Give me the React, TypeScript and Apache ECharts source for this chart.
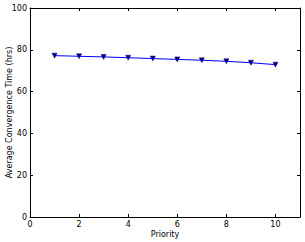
import React, { useEffect, useRef } from "react";
import * as echarts from "echarts";

const priorities = [1, 2, 3, 4, 5, 6, 7, 8, 9, 10];
const convergenceTime = [77.2, 76.9, 76.6, 76.2, 75.8, 75.4, 75.0, 74.5, 73.8, 72.9];
const xTicks = [0, 2, 4, 6, 8, 10];
const yTicks = [0, 20, 40, 60, 80, 100];

export default function App() {
  const ref = useRef<HTMLDivElement>(null);
  useEffect(() => {
    document.body.style.margin = "0";
    const chart = echarts.init(ref.current!, null, { renderer: "svg" });
    const font = "DejaVu Sans";
    const axisLine = { show: true, onZero: false, lineStyle: { color: "#000", width: 1 } };
    const tick = { show: true, inside: true, length: 3, lineStyle: { color: "#000" } };
    chart.setOption({
      animation: false,
      backgroundColor: "#fff",
      grid: { left: 30, right: 5, top: 8, bottom: 25, containLabel: false, outerBoundsMode: "none" },
      xAxis: [
        {
          type: "value",
          min: 0,
          max: 11,
          interval: 2,
          position: "bottom",
          name: "Priority",
          nameLocation: "middle",
          nameGap: 13,
          nameMoveOverlap: false,
          nameTextStyle: { fontFamily: font, fontSize: 8, color: "#000" },
          axisLine,
          axisTick: tick,
          splitLine: { show: false },
          axisLabel: {
            fontFamily: font,
            fontSize: 8,
            color: "#000",
            margin: 3,
            showMaxLabel: false,
            formatter: (v: number) => (xTicks.includes(v) ? String(v) : ""),
          },
        },
        {
          type: "value",
          min: 0,
          max: 11,
          interval: 2,
          position: "top",
          axisLine,
          axisTick: tick,
          axisLabel: { show: false },
          splitLine: { show: false },
        },
      ],
      yAxis: [
        {
          type: "value",
          min: 0,
          max: 100,
          interval: 20,
          position: "left",
          name: "Average Convergence Time (hrs)",
          nameLocation: "middle",
          nameGap: 17,
          nameMoveOverlap: false,
          nameTextStyle: { fontFamily: font, fontSize: 8, color: "#000" },
          axisLine,
          axisTick: tick,
          splitLine: { show: false },
          axisLabel: {
            fontFamily: font,
            fontSize: 8,
            color: "#000",
            margin: 3,
            formatter: (v: number) => (yTicks.includes(v) ? String(v) : ""),
          },
        },
        {
          type: "value",
          min: 0,
          max: 100,
          interval: 20,
          position: "right",
          axisLine,
          axisTick: tick,
          axisLabel: { show: false },
          splitLine: { show: false },
        },
      ],
      series: [
        {
          type: "line",
          data: priorities.map((p, i) => [p, convergenceTime[i]]),
          symbol: "triangle",
          symbolRotate: 180,
          symbolSize: 5,
          lineStyle: { color: "#0000ff", width: 1 },
          itemStyle: { color: "#00008b", borderColor: "#000080", borderWidth: 0.5 },
        },
      ],
    });
    return () => chart.dispose();
  }, []);
  return <div ref={ref} style={{ width: 305, height: 242 }} />;
}
